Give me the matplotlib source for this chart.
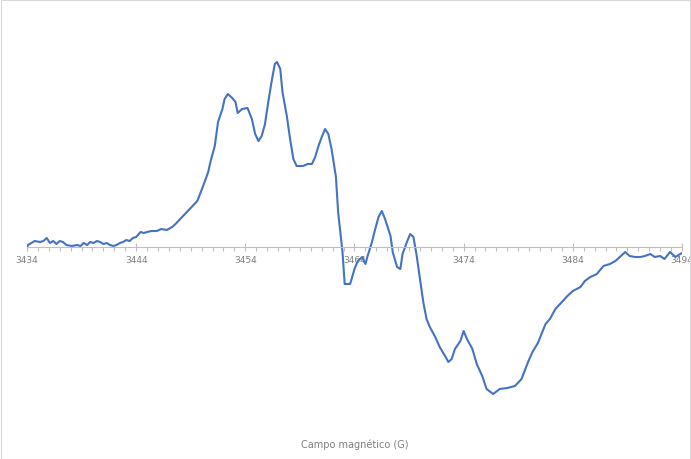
import matplotlib.pyplot as plt
from matplotlib.ticker import MultipleLocator, FixedLocator
from matplotlib.patches import Rectangle

# campo magnetico (G) y señal (unidades arbitrarias)
campo = [3434.0, 3434.1, 3434.4, 3434.7, 3435.2, 3435.5, 3435.8, 3436.1, 3436.4, 3436.7,
         3437.0, 3437.3, 3437.6, 3438.1, 3438.6, 3438.9, 3439.2, 3439.5, 3439.8, 3440.1,
         3440.4, 3440.7, 3441.0, 3441.3, 3441.6, 3441.9, 3442.2, 3442.5, 3442.8, 3443.1,
         3443.4, 3443.7, 3444.0, 3444.4, 3444.7, 3445.0, 3445.4, 3445.9, 3446.3, 3446.8,
         3447.3, 3447.6, 3448.3,
         3448.9, 3449.6, 3450.1, 3450.6, 3450.8, 3451.2, 3451.5, 3451.9, 3452.1, 3452.4,
         3452.8, 3453.1, 3453.3, 3453.7, 3454.2, 3454.6, 3454.9, 3455.2, 3455.5, 3455.8,
         3456.1, 3456.4, 3456.7, 3456.9, 3457.2, 3457.4, 3457.8, 3458.1, 3458.4, 3458.7,
         3459.3, 3459.7, 3460.1, 3460.4, 3460.7, 3461.0, 3461.3, 3461.6, 3461.9, 3462.3,
         3462.5, 3462.9, 3463.1, 3463.6, 3464.0, 3464.3, 3464.7, 3465.0, 3465.2, 3465.6,
         3465.9, 3466.2, 3466.5, 3466.8, 3467.3, 3467.5, 3467.9, 3468.2, 3468.4, 3468.8,
         3469.1, 3469.4, 3469.7, 3470.0, 3470.3, 3470.6, 3470.9, 3471.4, 3471.8, 3472.3,
         3472.6, 3472.9, 3473.2, 3473.7, 3474.0, 3474.3, 3474.8, 3475.2, 3475.7, 3476.1,
         3476.7, 3477.3, 3478.0, 3478.7, 3479.3, 3479.9, 3480.3, 3480.8, 3481.5, 3481.9,
         3482.4, 3483.0, 3483.5, 3484.0, 3484.7, 3485.1, 3485.6, 3486.2, 3486.8, 3487.4,
         3487.9, 3488.3, 3488.8, 3489.2, 3489.7, 3490.2, 3490.6, 3491.1, 3491.5, 3492.0,
         3492.4, 3492.9, 3493.4, 3494.0]
senal = [0, 2, 4, 6, 5, 6, 9, 4, 6, 3,
         6, 5, 2, 1, 2, 1, 4, 2, 5, 4,
         6, 5, 3, 4, 2, 1, 2, 4, 5, 7,
         6, 9, 10, 15, 14, 15, 16, 16, 18, 17,
         20, 23, 31,
         38, 46, 60, 75, 85, 101, 125, 138, 148, 153,
         149, 145, 134, 138, 139, 128, 113, 106, 111, 123,
         145, 165, 183, 185, 178, 155, 131, 108, 88, 81,
         81, 83, 83, 90, 101, 110, 118, 113, 98, 70,
         35, -5, -37, -37, -22, -14, -10, -17, -9, 5,
         18, 30, 36, 28, 11, -5, -20, -22, -7, 5,
         13, 10, -9, -32, -55, -72, -80, -90, -100, -109,
         -115, -112, -102, -94, -84, -92, -102, -117, -129, -142,
         -147, -142, -141, -139, -132, -115, -105, -96, -77, -72,
         -62, -55, -49, -44, -40, -34, -30, -27, -19, -17,
         -14, -10, -5, -9, -10, -10, -9, -7, -10, -9,
         -12, -5, -10, -6]

ticks_x = [3434, 3444, 3454, 3464, 3474, 3484, 3494]

fig = plt.figure(figsize=(6.91, 4.60), dpi=100)
fig.patches.append(Rectangle((0.001, 0.001), 0.997, 0.997, transform=fig.transFigure,
                             fill=False, edgecolor='#d9d9d9', linewidth=0.8))
ax = fig.add_axes([27 / 691, 1 - 410 / 460, 655 / 691, 370 / 460])

ax.plot(campo, senal, color='#4472C4', linewidth=1.5)

ax.set_xlim(3434, 3494)
ax.set_ylim(-162, 208)

for s in ['top', 'right', 'left']:
    ax.spines[s].set_visible(False)
ax.spines['bottom'].set_position(('data', 0))
ax.spines['bottom'].set_color('#bfbfbf')
ax.spines['bottom'].set_linewidth(0.8)

ax.set_yticks([])
ax.xaxis.set_major_locator(FixedLocator(ticks_x))
ax.xaxis.set_minor_locator(MultipleLocator(1))
ax.tick_params(axis='x', which='major', direction='inout', length=6, width=0.8,
               color='#bfbfbf', labelcolor='#7f7f7f', labelsize=6.5, pad=3)
ax.tick_params(axis='x', which='minor', direction='out', length=3, width=0.8,
               color='#bfbfbf')
ax.set_xticklabels([str(t) for t in ticks_x])

fig.text(355 / 691, 1 - 445 / 460, 'Campo magnético (G)', ha='center', va='center',
         fontsize=7, color='#7f7f7f')

fig.savefig('out.png', dpi=100)
